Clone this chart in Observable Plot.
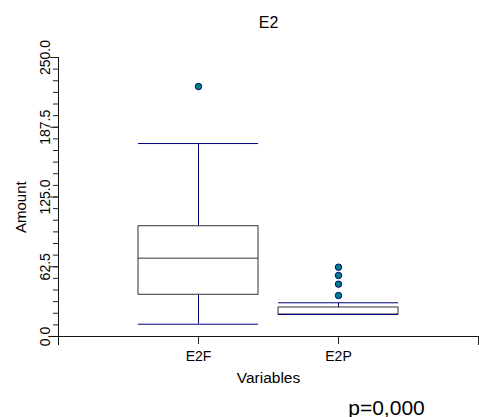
<!DOCTYPE html>
<html>
<head>
<meta charset="utf-8">
<script src="https://cdn.jsdelivr.net/npm/d3@7"></script>
<script src="https://cdn.jsdelivr.net/npm/@observablehq/plot@0.6"></script>
<style>
  html, body { margin: 0; padding: 0; background: white; }
  #chart svg { display: block; }
</style>
</head>
<body>
<div id="chart"></div>
<script>
// ---- data ----
const categories = ["E2F", "E2P"];
const lowWhisker = [11.0, 19.7];
const q1 = [37.4, 19.7];
const median = [70.2, 19.7];
const q3 = [98.8, 26.0];
const highWhisker = [172.9, 30.2];
const outlierCategory = ["E2F", "E2P", "E2P", "E2P", "E2P"];
const outlierValue = [224, 36.7, 46.9, 54.7, 62.1];
const majorTicks = [0, 62.5, 125, 187.5, 250];
const minorStep = 62.5 / 6;
const minorTicks = d3.range(0, 24 + 1).map(i => i * minorStep);
const title = "E2";
const yLabel = "Amount";
const xLabel = "Variables";
const note = "p=0,000";

// ---- build tables ----
const stats = categories.map((name, i) => ({
  name, lo: lowWhisker[i], q1: q1[i], med: median[i], q3: q3[i], hi: highWhisker[i]
}));
const outliers = outlierCategory.map((name, i) => ({name, value: outlierValue[i]}));

const W = 479, H = 417;
const mTop = 57, mBottom = 81, mLeft = 58, mRight = 1;
const frameH = H - mTop - mBottom;
const navy = "#000080";
const boxStroke = "#333333";

const chart = Plot.plot({
  width: W,
  height: H,
  marginTop: mTop,
  marginBottom: mBottom,
  marginLeft: mLeft,
  marginRight: mRight,
  style: {fontFamily: "'Liberation Sans', Arial, sans-serif", fontSize: "14px", color: "black", background: "white"},
  x: {type: "band", domain: categories, paddingInner: 1 / 7, paddingOuter: 4 / 7, label: null},
  y: {domain: [0, 250], label: null},
  marks: [
    // axes
    Plot.axisY({ticks: minorTicks, tickSize: 5, tickFormat: () => "", stroke: "#222"}),
    Plot.axisY({ticks: majorTicks, tickSize: 8, tickPadding: 1, tickRotate: -90,
                tickFormat: d => d.toFixed(1), fontSize: 14, stroke: "#222"}),
    Plot.axisX({tickSize: 8, tickPadding: 7, fontSize: 14, stroke: "#222"}),
    Plot.frame({anchor: "left", insetBottom: -8, stroke: "#111"}),
    Plot.frame({anchor: "right", insetTop: frameH, insetBottom: -8, stroke: "#222"}),
    Plot.ruleY([0], {insetLeft: -8, insetRight: -1, stroke: "#111"}),
    // whiskers
    Plot.ruleX(stats, {x: "name", y1: "q3", y2: "hi", stroke: navy}),
    Plot.ruleX(stats, {x: "name", y1: "lo", y2: "q1", stroke: navy}),
    // boxes
    Plot.rectY(stats, {x: "name", y1: "q1", y2: "q3", fill: "white", stroke: boxStroke}),
    Plot.tickY(stats, {x: "name", y: "med", stroke: boxStroke}),
    // caps
    Plot.tickY(stats, {x: "name", y: "hi", stroke: navy}),
    Plot.tickY(stats, {x: "name", y: "lo", stroke: navy}),
    // outliers
    Plot.dot(outliers, {x: "name", y: "value", r: 3.2, fill: "#008080", stroke: navy, strokeWidth: 1}),
    // texts
    Plot.text([title], {frameAnchor: "top", dy: -29.3, lineAnchor: "bottom", fontSize: 16}),
    Plot.text([yLabel], {frameAnchor: "left", dx: -33, dy: 36, rotate: -90, lineAnchor: "bottom", fontSize: 15}),
    Plot.text([xLabel], {frameAnchor: "bottom", dy: 46.7, lineAnchor: "bottom", fontSize: 15.5}),
    Plot.text([note], {frameAnchor: "bottom", dx: 118, dy: 78, lineAnchor: "bottom", fontSize: 21})
  ]
});
document.getElementById("chart").appendChild(chart);
</script>
</body>
</html>
